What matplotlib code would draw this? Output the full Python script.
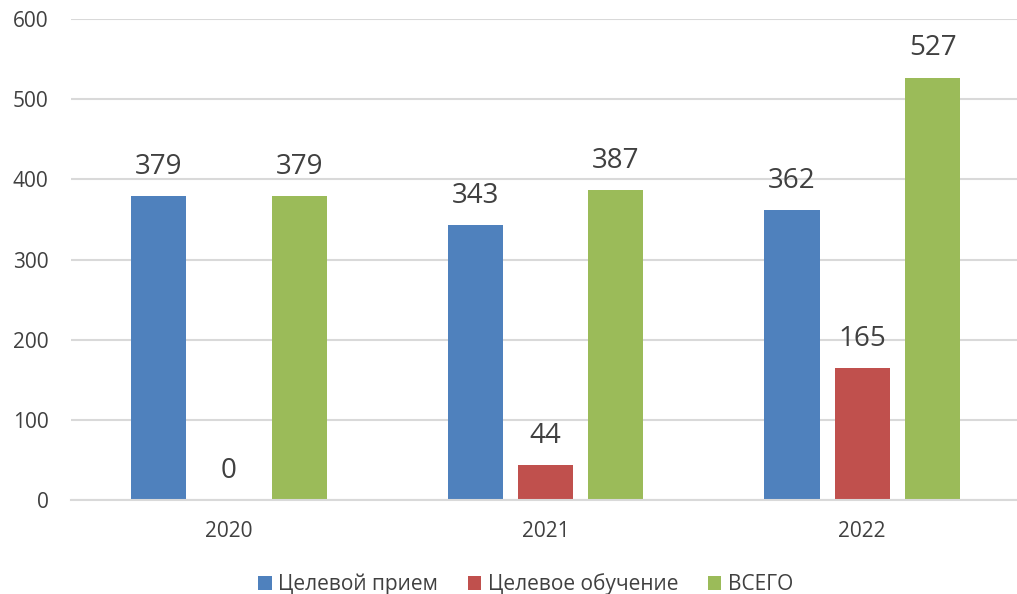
import matplotlib.pyplot as plt
import numpy as np

years = ["2020", "2021", "2022"]
series_names = ["Целевой прием", "Целевое обучение", "ВСЕГО"]
priem = [379, 343, 362]
obuchenie = [0, 44, 165]
vsego = [379, 387, 527]
colors = ["#4F81BD", "#C0504D", "#9BBB59"]

plt.rcParams['font.family'] = ['Open Sans', 'DejaVu Sans']
text_color = "#404040"

fig = plt.figure(figsize=(10.17, 5.94), dpi=100)
ax = fig.add_axes([0.0695, 0.158, 0.934, 0.81])

x = np.arange(len(years))
width = 0.174
offset = 0.222
for i, (vals, name) in enumerate(zip([priem, obuchenie, vsego], series_names)):
    bars = ax.bar(x + (i - 1) * offset, vals, width, color=colors[i], label=name, zorder=2)
    for b, v in zip(bars, vals):
        ax.annotate(str(v), (b.get_x() + b.get_width() / 2, v), xytext=(0, 16),
                    textcoords="offset points", ha="center", va="baseline",
                    fontsize=20, color=text_color)

ax.set_xlim(-0.5, 2.5)
ax.set_ylim(0, 600)
ax.set_yticks(range(0, 601, 100))
ax.set_xticks(x)
ax.set_xticklabels(years)
ax.grid(axis="y", color="#D9D9D9", linewidth=1.5, zorder=0)
for s in ["top", "right", "left"]:
    ax.spines[s].set_visible(False)
ax.spines["bottom"].set_color("#D9D9D9")
ax.spines["bottom"].set_linewidth(1.5)
ax.tick_params(axis="both", length=0, labelsize=15, colors=text_color)
ax.tick_params(axis="y", pad=16)
ax.tick_params(axis="x", pad=15)

ax.legend(loc="center", bbox_to_anchor=(0.517, 0.0168), bbox_transform=fig.transFigure,
          ncol=3, frameon=False, fontsize=15, labelcolor=text_color,
          handlelength=0.65, handleheight=0.65, handletextpad=0.31,
          columnspacing=1.42, borderaxespad=0, borderpad=0)

fig.savefig("out.png", dpi=100)
